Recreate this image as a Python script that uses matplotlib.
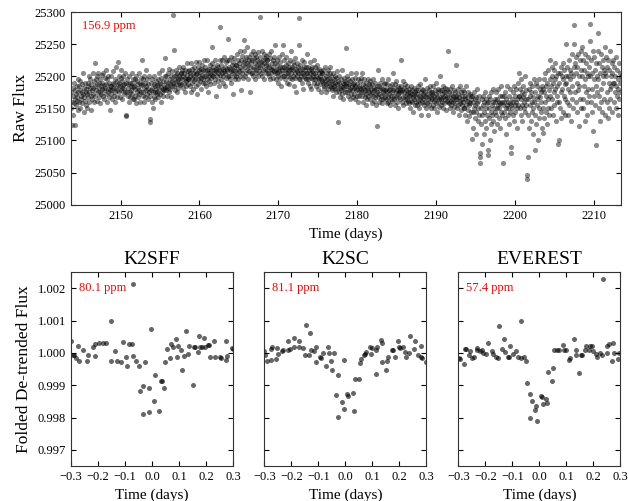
import numpy as np
import matplotlib
matplotlib.use('Agg')
import matplotlib.pyplot as plt

plt.rcParams['font.family'] = ['Liberation Serif', 'DejaVu Serif']
plt.rcParams['xtick.direction'] = 'in'
plt.rcParams['ytick.direction'] = 'in'
plt.rcParams['xtick.top'] = True
plt.rcParams['ytick.right'] = True
plt.rcParams['axes.edgecolor'] = '#333333'

# raw light curve: flux - 25000, 20 samples per day, days 2144 .. 2213
RAW_T0 = 2143.72
RAW_T1 = 2213.40
raw_2144 = [
    150, 175, 124, 160, 182, 140, 170, 158, 190, 165, 124, 178, 172, 155, 185, 162, 168, 195, 148, 176,
    185, 160, 178, 192, 150, 170, 165, 188, 176, 158, 205, 172, 145, 182, 168, 190, 162, 175, 155, 180,
    150, 172, 190, 185, 168, 200, 176, 160, 182, 195, 170, 148, 188, 178, 165, 205, 182, 172, 192, 160,
    220, 185, 170, 195, 178, 162, 200, 188, 175, 205, 168, 182, 190, 158, 196, 176, 185, 172, 202, 180,
    190, 170, 205, 178, 186, 165, 198, 182, 172, 210, 188, 160, 195, 180, 176, 200, 168, 190, 185, 178,
    147, 185, 172, 200, 178, 165, 190, 182, 208, 170, 188, 160, 196, 175, 182, 215, 168, 192, 178, 186,
    222, 190, 175, 200, 168, 185, 198, 178, 210, 182, 165, 192, 186, 200, 172, 188, 180, 205, 176, 190,
    138, 140, 176, 195, 170, 188, 182, 160, 200, 175, 190, 168, 185, 178, 205, 172, 190, 183, 165, 195,
    185, 165, 195, 170, 180, 200, 158, 188, 175, 192, 168, 182, 205, 172, 178, 190, 160, 186, 176, 198,
    225, 188, 170, 195, 176, 160, 200, 182, 190, 168, 178, 210, 185, 172, 195, 165, 180, 188, 176, 200,
]
raw_2154 = [
    128, 133, 170, 190, 178, 160, 195, 182, 175, 150, 188, 168, 200, 176, 185, 165, 180, 192, 172, 186,
    175, 195, 168, 188, 180, 205, 172, 190, 160, 198, 184, 176, 210, 180, 170, 192, 186, 178, 200, 182,
    228, 192, 178, 200, 185, 170, 205, 190, 182, 212, 175, 196, 188, 180, 200, 168, 192, 185, 208, 190,
    295, 241, 185, 200, 178, 195, 210, 188, 202, 192, 176, 205, 196, 182, 215, 190, 200, 186, 198, 205,
    205, 188, 210, 195, 182, 200, 215, 190, 205, 176, 198, 210, 192, 185, 220, 196, 202, 188, 208, 195,
    210, 195, 185, 205, 200, 220, 175, 198, 212, 190, 205, 180, 215, 200, 192, 208, 196, 222, 185, 204,
    172, 205, 195, 215, 188, 210, 200, 222, 192, 206, 180, 212, 198, 218, 202, 190, 210, 196, 225, 200,
    208, 190, 215, 200, 185, 210, 225, 195, 205, 175, 212, 200, 192, 218, 205, 188, 210, 198, 220, 202,
    245, 200, 215, 190, 210, 205, 225, 195, 212, 170, 208, 200, 218, 192, 205, 215, 185, 210, 202, 225,
    277, 210, 195, 218, 205, 225, 190, 212, 200, 230, 208, 185, 215, 205, 222, 198, 212, 208, 225, 200,
]
raw_2164 = [
    258, 215, 200, 225, 195, 212, 208, 230, 190, 218, 205, 222, 172, 210, 215, 200, 228, 208, 195, 218,
    218, 200, 235, 205, 225, 212, 195, 220, 208, 240, 200, 215, 178, 225, 210, 232, 205, 218, 198, 222,
    256, 240, 225, 200, 215, 230, 205, 220, 210, 245, 195, 218, 225, 208, 230, 175, 215, 222, 205, 235,
    225, 205, 240, 215, 200, 228, 212, 235, 195, 220, 210, 230, 205, 218, 225, 200, 215, 238, 208, 222,
    293, 215, 230, 205, 222, 240, 200, 218, 225, 210, 235, 195, 220, 212, 228, 205, 218, 232, 210, 225,
    225, 205, 218, 235, 200, 215, 228, 195, 212, 240, 205, 220, 210, 225, 198, 215, 230, 208, 220, 205,
    248, 210, 195, 218, 205, 225, 200, 212, 190, 230, 208, 215, 198, 222, 205, 185, 215, 210, 235, 200,
    249, 215, 200, 225, 195, 210, 218, 205, 230, 190, 212, 200, 220, 205, 188, 215, 210, 225, 198, 212,
    240, 205, 215, 195, 222, 200, 210, 185, 218, 205, 228, 198, 212, 175, 208, 220, 200, 215, 205, 195,
    290, 248, 210, 195, 218, 205, 200, 225, 190, 212, 205, 180, 215, 200, 222, 198, 210, 205, 195, 215,
]
raw_2174 = [
    235, 205, 195, 215, 190, 210, 200, 222, 185, 205, 212, 198, 180, 208, 215, 195, 205, 200, 225, 190,
    215, 195, 205, 185, 200, 210, 190, 218, 198, 180, 205, 195, 212, 188, 200, 175, 208, 196, 192, 205,
    205, 190, 210, 182, 198, 185, 215, 192, 175, 200, 188, 205, 195, 180, 210, 190, 198, 185, 205, 192,
    215, 185, 200, 178, 192, 182, 205, 188, 170, 195, 185, 200, 180, 190, 175, 198, 188, 208, 182, 192,
    128, 190, 175, 200, 182, 168, 195, 185, 178, 210, 172, 190, 183, 165, 198, 180, 188, 175, 192, 185,
    244, 190, 175, 200, 170, 185, 195, 178, 188, 165, 192, 180, 205, 172, 185, 178, 195, 168, 188, 182,
    190, 172, 198, 165, 185, 178, 205, 170, 188, 180, 160, 195, 176, 185, 170, 192, 182, 175, 198, 180,
    205, 170, 188, 160, 182, 175, 195, 168, 185, 178, 155, 190, 172, 182, 165, 195, 178, 170, 188, 176,
    185, 165, 192, 172, 180, 158, 188, 175, 170, 195, 162, 182, 178, 168, 190, 155, 180, 172, 185, 176,
    122, 210, 168, 185, 172, 160, 190, 178, 165, 182, 170, 195, 158, 180, 175, 165, 188, 172, 178, 168,
]
raw_2184 = [
    190, 165, 180, 158, 175, 188, 168, 195, 160, 178, 172, 185, 155, 180, 170, 165, 188, 175, 162, 178,
    205, 165, 182, 170, 155, 188, 175, 168, 192, 160, 178, 172, 185, 150, 175, 168, 182, 165, 178, 175,
    225, 185, 160, 178, 168, 192, 155, 175, 182, 165, 170, 188, 158, 178, 172, 165, 185, 162, 175, 170,
    180, 158, 175, 150, 170, 185, 162, 172, 160, 178, 145, 168, 182, 165, 172, 155, 175, 168, 160, 178,
    172, 155, 185, 162, 178, 150, 170, 165, 188, 158, 175, 140, 168, 180, 160, 172, 165, 178, 155, 170,
    195, 160, 175, 150, 168, 182, 158, 172, 140, 165, 178, 155, 170, 185, 162, 168, 150, 175, 165, 172,
    175, 155, 185, 162, 170, 150, 178, 165, 190, 158, 172, 145, 168, 180, 160, 175, 165, 152, 178, 168,
    200, 165, 155, 178, 160, 172, 185, 150, 168, 175, 158, 182, 165, 170, 148, 175, 162, 180, 168, 160,
    240, 175, 158, 168, 150, 180, 162, 172, 155, 185, 165, 145, 170, 160, 178, 152, 168, 175, 158, 165,
    218, 170, 150, 165, 180, 155, 172, 140, 168, 158, 185, 162, 148, 175, 165, 155, 170, 160, 178, 150,
]
raw_2194 = [
    175, 150, 165, 140, 170, 155, 185, 130, 162, 168, 148, 175, 155, 160, 138, 172, 158, 165, 145, 170,
    102, 170, 145, 160, 120, 175, 150, 135, 165, 155, 110, 168, 145, 158, 180, 130, 162, 150, 140, 170,
    65, 80, 75, 150, 125, 165, 140, 95, 170, 155, 110, 160, 145, 130, 175, 150, 120, 165, 140, 158,
    78, 85, 160, 135, 170, 150, 100, 165, 145, 125, 175, 155, 140, 160, 130, 180, 150, 115, 165, 145,
    160, 140, 175, 150, 125, 165, 155, 180, 135, 160, 150, 170, 120, 158, 145, 185, 160, 140, 170, 155,
    65, 170, 145, 160, 135, 175, 150, 110, 165, 155, 185, 140, 160, 150, 125, 170, 158, 145, 180, 155,
    90, 80, 165, 150, 175, 140, 160, 185, 130, 170, 155, 145, 180, 160, 120, 165, 150, 190, 155, 170,
    205, 170, 150, 180, 140, 165, 195, 155, 175, 130, 168, 185, 150, 172, 160, 200, 145, 178, 165, 155,
    40, 46, 75, 165, 140, 180, 120, 170, 155, 190, 130, 175, 160, 145, 185, 110, 168, 150, 195, 160,
    85, 175, 140, 190, 125, 165, 155, 185, 100, 170, 150, 195, 135, 168, 180, 145, 175, 160, 120, 185,
]
raw_2204 = [
    112, 180, 150, 195, 135, 175, 160, 205, 145, 185, 170, 125, 190, 165, 210, 150, 178, 140, 195, 170,
    225, 185, 150, 200, 165, 215, 140, 190, 175, 210, 155, 195, 180, 220, 130, 200, 170, 185, 160, 205,
    95, 100, 190, 160, 205, 150, 215, 175, 135, 200, 180, 220, 145, 195, 170, 210, 165, 188, 140, 200,
    250, 190, 160, 215, 140, 200, 180, 225, 155, 195, 175, 210, 130, 205, 185, 235, 165, 200, 150, 215,
    280, 250, 220, 175, 205, 160, 230, 190, 145, 215, 178, 235, 122, 200, 185, 225, 165, 210, 150, 240,
    245, 200, 165, 225, 150, 210, 185, 235, 130, 195, 175, 220, 160, 205, 140, 230, 180, 200, 170, 215,
    282, 255, 200, 160, 225, 145, 205, 180, 240, 115, 195, 170, 230, 155, 210, 185, 220, 93, 200, 175,
    268, 240, 195, 150, 220, 170, 205, 130, 235, 180, 160, 215, 145, 200, 190, 225, 165, 210, 140, 205,
    245, 230, 200, 160, 215, 175, 135, 225, 190, 150, 210, 180, 240, 165, 200, 185, 220, 145, 205, 190,
    225, 190, 160, 215, 175, 200, 150, 230, 185, 170, 210, 140, 195, 180, 220, 165, 205, 175, 190, 200,
]

# folded, de-trended transits
sff_t = [-0.300, -0.294, -0.289, -0.281, -0.276, -0.270, -0.257, -0.239, -0.236, -0.218,
         -0.211, -0.211, -0.195, -0.180, -0.170, -0.152, -0.152, -0.137, -0.128, -0.116,
         -0.108, -0.096, -0.093, -0.087, -0.075, -0.072, -0.069, -0.059, -0.050, -0.046,
         -0.034, -0.034, -0.028, -0.013, -0.011, -0.004, 0.006, 0.009, 0.027, 0.033,
         0.036, 0.045, 0.049, 0.055, 0.067, 0.071, 0.077, 0.090, 0.092, 0.096,
         0.107, 0.111, 0.117, 0.127, 0.133, 0.136, 0.151, 0.154, 0.158, 0.170,
         0.173, 0.176, 0.185, 0.193, 0.197, 0.206, 0.212, 0.216, 0.230, 0.234,
         0.253, 0.256, 0.272, 0.275, 0.278, 0.294, 0.299]
sff_f = [1.00036, 0.99995, 0.99993, 0.99985, 1.00021, 0.99974, 1.00008, 0.99974, 0.99995, 1.00018,
         0.99991, 1.00027, 1.00031, 1.00031, 1.00031, 1.00100, 0.99975, 1.00005, 0.99975, 0.99972,
         1.00035, 0.99988, 0.99960, 1.00029, 1.00029, 0.99990, 1.00215, 0.99975, 0.99961, 0.99883,
         0.99899, 0.99811, 0.99971, 0.99816, 0.99893, 1.00075, 0.99851, 0.99931, 0.99820, 0.99913,
         0.99913, 0.99891, 0.99972, 1.00011, 0.99985, 1.00029, 1.00018, 1.00042, 0.99988, 1.00021,
         1.00010, 0.99946, 0.99991, 1.00068, 0.99998, 1.00023, 0.99902, 1.00018, 1.00018, 1.00003,
         1.00052, 1.00018, 1.00018, 1.00046, 1.00018, 1.00025, 1.00025, 0.99988, 1.00037, 0.99988,
         0.99988, 0.99984, 0.99977, 1.00036, 0.99991, 1.00016, 1.00013]

k2sc_t = [-0.300, -0.298, -0.291, -0.277, -0.273, -0.277, -0.257, -0.253, -0.249, -0.236,
          -0.229, -0.213, -0.211, -0.205, -0.190, -0.190, -0.170, -0.170, -0.155, -0.151,
          -0.146, -0.134, -0.130, -0.126, -0.115, -0.107, -0.107, -0.093, -0.089, -0.081,
          -0.071, -0.066, -0.062, -0.053, -0.050, -0.043, -0.027, -0.033, -0.029, -0.012,
          -0.006, -0.004, 0.006, 0.009, 0.029, 0.031, 0.037, 0.050, 0.053, 0.056,
          0.068, 0.072, 0.078, 0.090, 0.095, 0.099, 0.112, 0.114, 0.118, 0.130,
          0.134, 0.136, 0.151, 0.155, 0.159, 0.174, 0.178, 0.183, 0.193, 0.199,
          0.203, 0.214, 0.220, 0.224, 0.234, 0.240, 0.253, 0.259, 0.268, 0.278,
          0.281, 0.284, 0.299]
k2sc_f = [1.00005, 0.99993, 0.99975, 1.00013, 1.00018, 0.99979, 0.99982, 1.00016, 0.99996, 1.00006,
          1.00008, 1.00037, 1.00010, 1.00013, 1.00047, 1.00020, 1.00037, 1.00020, 1.00015, 0.99993,
          1.00088, 0.99995, 1.00062, 1.00010, 1.00005, 1.00018, 0.99972, 0.99989, 0.99985, 1.00000,
          0.99959, 1.00018, 1.00000, 0.99975, 0.99948, 1.00000, 0.99931, 0.99869, 0.99803, 0.99849,
          0.99828, 0.99979, 0.99872, 0.99866, 0.99877, 0.99820, 0.99918, 0.99920, 0.99969, 0.99982,
          0.99993, 0.99998, 1.00002, 1.00018, 0.99996, 1.00015, 1.00008, 0.99936, 1.00020, 1.00039,
          1.00031, 0.99972, 0.99946, 0.99975, 0.99987, 1.00010, 1.00008, 0.99987, 1.00037, 1.00020,
          1.00016, 1.00020, 1.00003, 0.99987, 1.00000, 1.00054, 1.00013, 1.00037, 0.99995, 1.00023,
          0.99987, 0.99985, 0.99972]

ev_t = [-0.296, -0.292, -0.280, -0.276, -0.270, -0.260, -0.255, -0.251, -0.241, -0.232,
        -0.230, -0.218, -0.213, -0.207, -0.197, -0.189, -0.176, -0.170, -0.160, -0.152,
        -0.149, -0.139, -0.130, -0.128, -0.115, -0.111, -0.109, -0.097, -0.088, -0.078,
        -0.069, -0.069, -0.057, -0.051, -0.047, -0.035, -0.033, -0.027, -0.017, -0.013,
        -0.008, 0.006, 0.010, 0.014, 0.024, 0.029, 0.033, 0.045, 0.051, 0.053,
        0.066, 0.073, 0.088, 0.091, 0.100, 0.110, 0.115, 0.128, 0.134, 0.134,
        0.148, 0.153, 0.159, 0.168, 0.174, 0.184, 0.189, 0.193, 0.199, 0.211,
        0.215, 0.224, 0.230, 0.236, 0.249, 0.251, 0.257, 0.267, 0.273, 0.277,
        0.292, 0.296]
ev_f = [0.99985, 0.99980, 0.99965, 1.00013, 1.00013, 0.99993, 1.00005, 0.99985, 0.99987, 1.00016,
        1.00008, 1.00006, 1.00010, 1.00000, 0.99998, 1.00031, 1.00005, 0.99996, 0.99989, 0.99985,
        1.00085, 1.00013, 1.00044, 1.00003, 0.99989, 0.99987, 1.00023, 0.99998, 1.00005, 0.99987,
        1.00098, 0.99985, 0.99987, 0.99975, 0.99907, 0.99872, 0.99800, 0.99851, 0.99823, 0.99836,
        0.99788, 0.99866, 0.99864, 0.99843, 0.99859, 0.99846, 0.99941, 0.99913, 0.99954, 1.00010,
        1.00010, 1.00010, 1.00026, 1.00010, 1.00008, 0.99979, 0.99985, 1.00042, 1.00010, 0.99993,
        0.99939, 0.99993, 0.99993, 1.00008, 1.00023, 1.00010, 1.00023, 1.00023, 1.00006, 0.99996,
        0.99989, 1.00000, 0.99993, 1.00229, 1.00000, 1.00023, 1.00028, 0.99975, 1.00032, 1.00000,
        0.99982, 1.00000]

panels = [('K2SFF', sff_t, sff_f, '80.1 ppm'),
          ('K2SC', k2sc_t, k2sc_f, '81.1 ppm'),
          ('EVEREST', ev_t, ev_f, '57.4 ppm')]

raw_flux = 25000 + np.array(raw_2144 + raw_2154 + raw_2164 + raw_2174 + raw_2184 + raw_2194 + raw_2204)
raw_time = np.linspace(RAW_T0, RAW_T1, len(raw_flux))

fig = plt.figure(figsize=(6.29, 5.01), dpi=100)

ax = fig.add_axes([0.1129, 0.5914, 0.8739, 0.3846])
ax.scatter(raw_time, raw_flux, s=14, color='k', alpha=0.45, lw=0)
ax.set_xlim(RAW_T0, RAW_T1)
ax.set_ylim(25000, 25300)
ax.set_xticks(np.arange(2150, 2211, 10))
ax.set_yticks(np.arange(25000, 25301, 50))
ax.tick_params(labelsize=9)
ax.set_xlabel('Time (days)', fontsize=11)
ax.set_ylabel('Raw Flux', fontsize=12.5)
ax.text(0.02, 0.93, '156.9 ppm', color='r', fontsize=9, transform=ax.transAxes, va='center')

lefts = [0.1129, 0.4202, 0.7286]
for i, (name, t, f, ppm) in enumerate(panels):
    axb = fig.add_axes([lefts[i], 0.0699, 0.2578, 0.3866])
    axb.scatter(t, f, s=13, color='k', alpha=0.6, lw=0)
    axb.set_xlim(-0.3, 0.3)
    axb.set_ylim(0.9965, 1.0025)
    axb.set_xticks([-0.3, -0.2, -0.1, 0.0, 0.1, 0.2, 0.3])
    axb.set_xticklabels(['\u22120.3', '\u22120.2', '\u22120.1', '0.0', '0.1', '0.2', '0.3'])
    axb.set_yticks([0.997, 0.998, 0.999, 1.000, 1.001, 1.002])
    axb.tick_params(labelsize=9)
    axb.set_title(name, fontsize=14)
    axb.set_xlabel('Time (days)', fontsize=11)
    axb.text(0.05, 0.92, ppm, color='r', fontsize=9, transform=axb.transAxes, va='center')
    if i == 0:
        axb.set_yticklabels(['0.997', '0.998', '0.999', '1.000', '1.001', '1.002'])
        axb.set_ylabel('Folded De-trended Flux', fontsize=12.5)
    else:
        axb.set_yticklabels([])

fig.savefig('out.png', dpi=100)
